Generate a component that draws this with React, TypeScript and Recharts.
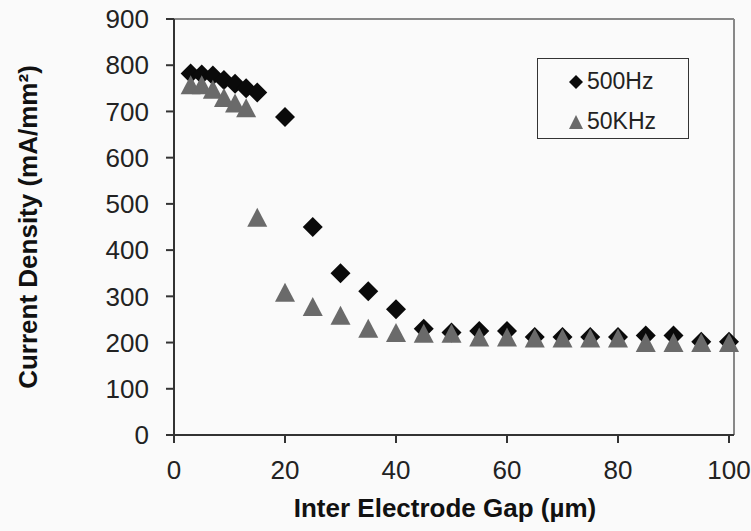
import React from 'react';
import { ScatterChart, Scatter, XAxis, YAxis, ReferenceLine } from 'recharts';

const gaps = [3, 5, 7, 9, 11, 13, 15, 20, 25, 30, 35, 40, 45, 50, 55, 60, 65, 70, 75, 80, 85, 90, 95, 100];
const density500Hz = [782, 780, 778, 768, 760, 750, 741, 688, 450, 350, 311, 272, 230, 222, 225, 225, 212, 212, 212, 212, 215, 215, 202, 202];
const density50KHz = [758, 758, 748, 730, 718, 708, 471, 309, 278, 259, 231, 222, 220, 220, 212, 212, 210, 210, 210, 210, 200, 200, 200, 200];
const xTicks = [0, 20, 40, 60, 80, 100];
const yTicks = [0, 100, 200, 300, 400, 500, 600, 700, 800, 900];

const data500 = gaps.map((g, i) => ({ x: g, y: density500Hz[i] }));
const data50k = gaps.map((g, i) => ({ x: g, y: density50KHz[i] }));

const FONT = '"Liberation Sans", Arial, sans-serif';

const Diamond = (props: any) => {
  const { cx, cy } = props;
  const r = 10;
  return <polygon points={`${cx},${cy - r} ${cx + r},${cy} ${cx},${cy + r} ${cx - r},${cy}`} fill="#0a0a0a" />;
};

const Triangle = (props: any) => {
  const { cx, cy } = props;
  const w = 10;
  const h = 9.5;
  return <polygon points={`${cx},${cy - h} ${cx + w},${cy + h} ${cx - w},${cy + h}`} fill="#6a6a6a" />;
};

const YTitle = (props: any) => {
  const vb = props.viewBox || {};
  const cy = vb.y + vb.height / 2;
  return (
    <text x={28} y={cy} transform={`rotate(-90, 28, ${cy})`} textAnchor="middle" dominantBaseline="central"
      fontFamily={FONT} fontWeight="bold" fontSize={26} fill="#111">
      Current Density (mA/mm²)
    </text>
  );
};

const XTitle = (props: any) => {
  return (
    <text x={445} y={508} textAnchor="middle" dominantBaseline="central"
      fontFamily={FONT} fontWeight="bold" fontSize={26} fill="#111">
      Inter Electrode Gap (µm)
    </text>
  );
};

export default function App() {
  return (
    <div style={{ position: 'absolute', left: 0, top: 0, width: 751, height: 531, background: '#fafafa' }}>
      <ScatterChart width={751} height={531} margin={{ top: 19, right: 17, bottom: 26, left: 0 }}>
        <XAxis type="number" dataKey="x" domain={[0, 100.9]} ticks={xTicks} height={70}
          axisLine={{ stroke: '#333', strokeWidth: 2 }} tickLine={{ stroke: '#333', strokeWidth: 2 }}
          tickSize={8} tickMargin={18}
          tick={{ fontFamily: FONT, fontSize: 26, fill: '#222' }}
          label={<XTitle />} />
        <YAxis type="number" dataKey="y" domain={[0, 900]} ticks={yTicks} width={174}
          axisLine={{ stroke: '#333', strokeWidth: 2 }} tickLine={{ stroke: '#333', strokeWidth: 2 }}
          tickSize={8} tickMargin={17}
          tick={{ fontFamily: FONT, fontSize: 26, fill: '#222' }}
          label={<YTitle />} />
        <ReferenceLine y={900} stroke="#888" strokeWidth={2} />
        <ReferenceLine x={100.9} stroke="#888" strokeWidth={2} />
        <Scatter name="500Hz" data={data500} shape={<Diamond />} isAnimationActive={false} />
        <Scatter name="50KHz" data={data50k} shape={<Triangle />} isAnimationActive={false} />
      </ScatterChart>
      <div style={{
        position: 'absolute', left: 537, top: 58, width: 150, height: 79,
        border: '1.5px solid #333', fontFamily: FONT, fontSize: 23, color: '#222',
      }}>
        <div style={{ position: 'absolute', left: 31, top: 9, display: 'flex', alignItems: 'center' }}>
          <svg width={18} height={14}><polygon points="7,0 14,7 7,14 0,7" fill="#0a0a0a" /></svg>
          <span>500Hz</span>
        </div>
        <div style={{ position: 'absolute', left: 31, top: 49, display: 'flex', alignItems: 'center' }}>
          <svg width={18} height={14}><polygon points="7,0 14,14 0,14" fill="#6a6a6a" /></svg>
          <span>50KHz</span>
        </div>
      </div>
    </div>
  );
}
